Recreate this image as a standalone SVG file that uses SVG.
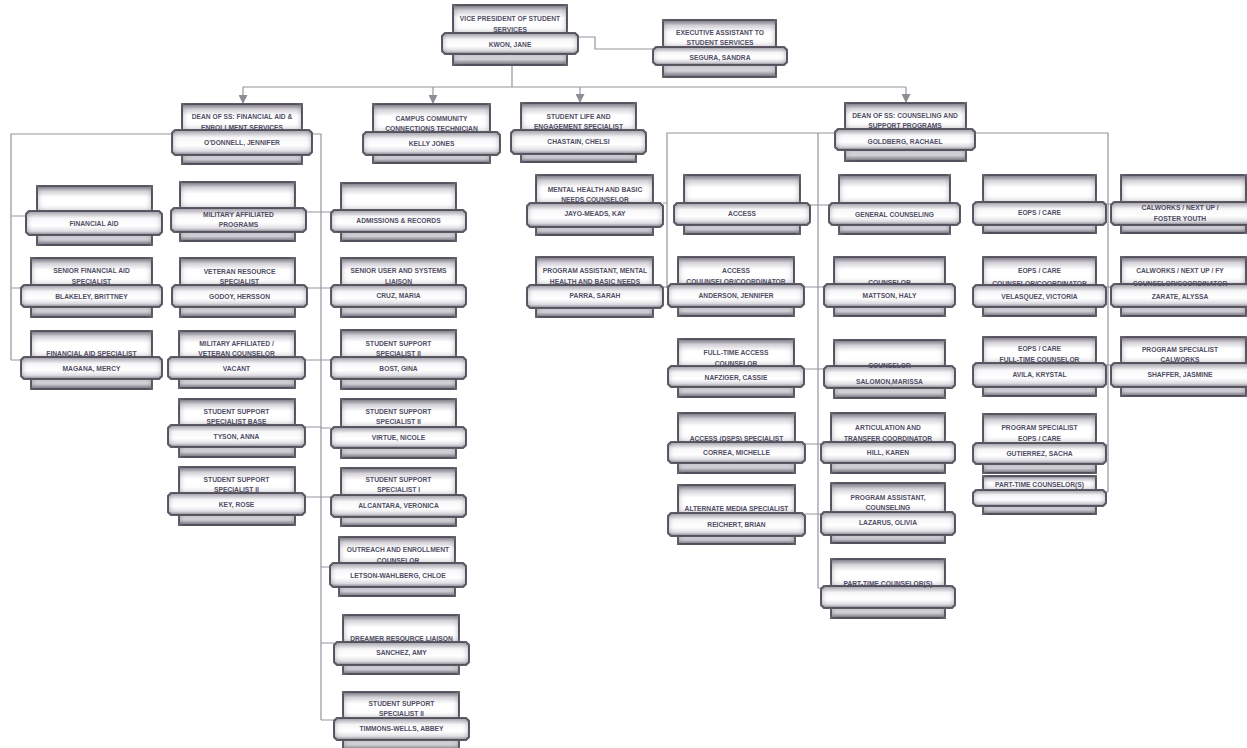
<svg xmlns="http://www.w3.org/2000/svg" width="1247" height="748" viewBox="0 0 1247 748">
<defs>
<filter id="ins" x="-10%" y="-60%" width="120%" height="220%" color-interpolation-filters="sRGB">
<feFlood flood-color="#817e8a" result="f"/>
<feComposite in="f" in2="SourceAlpha" operator="out" result="o"/>
<feGaussianBlur in="o" stdDeviation="3.5" result="b"/>
<feComposite in="b" in2="SourceAlpha" operator="in" result="s"/>
<feMerge><feMergeNode in="SourceGraphic"/><feMergeNode in="s"/></feMerge>
</filter>
<linearGradient id="gt" x1="0" y1="0" x2="0" y2="1">
<stop offset="0" stop-color="#7a7782"/><stop offset="0.2" stop-color="#d4d2d8"/><stop offset="0.45" stop-color="#ffffff"/><stop offset="1" stop-color="#ffffff"/>
</linearGradient>
<linearGradient id="gm" x1="0" y1="0" x2="0" y2="1">
<stop offset="0" stop-color="#b0adb6"/><stop offset="0.3" stop-color="#f7f7f9"/><stop offset="0.6" stop-color="#ffffff"/><stop offset="0.85" stop-color="#e4e3e8"/><stop offset="1" stop-color="#8d8a95"/>
</linearGradient>
<linearGradient id="gb" x1="0" y1="0" x2="0" y2="1">
<stop offset="0" stop-color="#e6e5ea"/><stop offset="0.5" stop-color="#d6d4da"/><stop offset="1" stop-color="#706d79"/>
</linearGradient>
<marker id="arr" viewBox="0 0 10 10" refX="10" refY="5" markerWidth="9" markerHeight="9" orient="auto" markerUnits="userSpaceOnUse">
<path d="M0,0 L10,5 L0,10 Z" fill="#8e8c96"/>
</marker>
</defs>
<style>
.s{stroke:#3d3a45;stroke-width:2;filter:url(#ins)}
.t{fill:url(#gt)}
.m{fill:url(#gm)}
.b{fill:url(#gb)}
text{font-family:"Liberation Sans",Arial,sans-serif;font-size:6.7px;font-weight:bold;fill:#4f4d63;text-anchor:middle}
.c path{fill:none;stroke:#96949e;stroke-width:1.2}
</style>
<rect width="1247" height="748" fill="#ffffff"/>

<g id="connectors" class="c">
<path d="M578,37H595V49H653"/>
<path d="M512,65V87M243,87H906"/>
<path d="M243,87V104" marker-end="url(#arr)"/>
<path d="M433,87V104" marker-end="url(#arr)"/>
<path d="M580,87V103" marker-end="url(#arr)"/>
<path d="M906,87V103" marker-end="url(#arr)"/>
<path d="M172,134H11V360M312,134H321V720"/>
<path d="M11,216H26M11,288H21M11,360H21"/>
<path d="M305,212H321M307,288H321M305,360H321M305,427H321M305,497H321"/>
<path d="M321,212H331M321,288H331M321,360H331M321,428H331M321,497H331M321,567H330M321,643H334M321,720H334"/>
<path d="M835,133H667V288M975,133H1108V492M818,133V588"/>
<path d="M663,203H667M663,287H667"/>
<path d="M810,205H829M804,287H824M804,369H824M805,444H821M805,514H821M818,588H821"/>
<path d="M1106,204H1111M1106,287H1111M1106,365H1111M1106,445H1108M1106,492H1108"/>
</g>

<g id="n-vp"><rect class="s t" x="453" y="5" width="114" height="28"/><rect class="s b" x="453" y="54" width="114" height="11"/><path class="s m" d="M445,33H575L578,36V51L575,54H445L442,51V36Z"/>
<text x="510" y="20.5">VICE PRESIDENT OF STUDENT</text><text x="510" y="31.5">SERVICES</text><text x="510" y="46.5">KWON, JANE</text></g>

<g id="n-exec"><rect class="s t" x="663" y="20" width="113" height="27"/><rect class="s b" x="663" y="65" width="113" height="12"/><path class="s m" d="M656,47H784L787,50V62L784,65H656L653,62V50Z"/>
<text x="720" y="34.5">EXECUTIVE ASSISTANT TO</text><text x="720" y="44.5">STUDENT SERVICES</text><text x="720" y="59.5">SEGURA, SANDRA</text></g>

<g id="n-deanfa"><rect class="s t" x="182" y="104" width="120" height="26"/><rect class="s b" x="182" y="155" width="120" height="9"/><path class="s m" d="M175,130H309L312,133V152L309,155H175L172,152V133Z"/>
<text x="242" y="118.5">DEAN OF SS:  FINANCIAL AID &amp;</text><text x="242" y="129.5">ENROLLMENT SERVICES</text><text x="242" y="144.5">O'DONNELL, JENNIFER</text></g>

<g id="n-campus"><rect class="s t" x="373" y="104" width="117" height="28"/><rect class="s b" x="373" y="155" width="117" height="8"/><path class="s m" d="M366,132H497L500,135V152L497,155H366L363,152V135Z"/>
<text x="431.5" y="120.5">CAMPUS COMMUNITY</text><text x="431.5" y="130.5">CONNECTIONS TECHNICIAN</text><text x="431.5" y="145.5">KELLY JONES</text></g>

<g id="n-studentlife"><rect class="s t" x="521" y="103" width="115" height="27"/><rect class="s b" x="521" y="154" width="115" height="8"/><path class="s m" d="M514,130H643L646,133V151L643,154H514L511,151V133Z"/>
<text x="578.5" y="118.5">STUDENT LIFE AND</text><text x="578.5" y="128.5">ENGAGEMENT SPECIALIST</text><text x="578.5" y="143.5">CHASTAIN, CHELSI</text></g>

<g id="n-deancs"><rect class="s t" x="845" y="103" width="121" height="26"/><rect class="s b" x="845" y="150" width="121" height="11"/><path class="s m" d="M838,129H972L975,132V147L972,150H838L835,147V132Z"/>
<text x="905" y="117.5">DEAN OF SS: COUNSELING AND</text><text x="905" y="127.5">SUPPORT PROGRAMS</text><text x="905" y="143.5">GOLDBERG, RACHAEL</text></g>

<g id="n-finaid"><rect class="s t" x="37" y="186" width="115" height="25"/><rect class="s b" x="37" y="235" width="115" height="10"/><path class="s m" d="M29,211H159L162,214V232L159,235H29L26,232V214Z"/>
<text x="94" y="225.5">FINANCIAL AID</text></g>

<g id="n-seniorfa"><rect class="s t" x="31" y="258" width="121" height="27"/><rect class="s b" x="31" y="307" width="121" height="10"/><path class="s m" d="M24,285H159L162,288V304L159,307H24L21,304V288Z"/>
<text x="91.5" y="272.5">SENIOR FINANCIAL AID</text><text x="91.5" y="283.5">SPECIALIST</text><text x="91.5" y="298.5">BLAKELEY, BRITTNEY</text></g>

<g id="n-faspec"><rect class="s t" x="31" y="331" width="121" height="26"/><rect class="s b" x="31" y="379" width="121" height="10"/><path class="s m" d="M24,357H159L162,360V376L159,379H24L21,376V360Z"/>
<text x="91.5" y="355.5">FINANCIAL AID SPECIALIST</text><text x="91.5" y="370.5">MAGANA, MERCY</text></g>

<g id="n-milprog"><rect class="s t" x="180" y="182" width="115" height="26"/><rect class="s b" x="180" y="232" width="115" height="9"/><path class="s m" d="M174,208H303L306,211V229L303,232H174L171,229V211Z"/>
<text x="238.5" y="216.5">MILITARY AFFILIATED</text><text x="238.5" y="226.5">PROGRAMS</text></g>

<g id="n-veteran"><rect class="s t" x="180" y="258" width="115" height="27"/><rect class="s b" x="180" y="307" width="115" height="10"/><path class="s m" d="M175,285H304L307,288V304L304,307H175L172,304V288Z"/>
<text x="239.5" y="273.5">VETERAN RESOURCE</text><text x="239.5" y="283.5">SPECIALIST</text><text x="239.5" y="298.5">GODOY, HERSSON</text></g>

<g id="n-milvet"><rect class="s t" x="179" y="331" width="116" height="26"/><rect class="s b" x="179" y="379" width="116" height="9"/><path class="s m" d="M171,357H302L305,360V376L302,379H171L168,376V360Z"/>
<text x="236.5" y="345.5">MILITARY AFFILIATED /</text><text x="236.5" y="355.5">VETERAN COUNSELOR</text><text x="236.5" y="370.5">VACANT</text></g>

<g id="n-tyson"><rect class="s t" x="179" y="399" width="116" height="26"/><rect class="s b" x="179" y="447" width="116" height="10"/><path class="s m" d="M171,425H302L305,428V444L302,447H171L168,444V428Z"/>
<text x="236.5" y="413.5">STUDENT SUPPORT</text><text x="236.5" y="423.5">SPECIALIST BASE</text><text x="236.5" y="438.5">TYSON, ANNA</text></g>

<g id="n-key"><rect class="s t" x="179" y="467" width="116" height="26"/><rect class="s b" x="179" y="515" width="116" height="10"/><path class="s m" d="M171,493H302L305,496V512L302,515H171L168,512V496Z"/>
<text x="236.5" y="481.5">STUDENT SUPPORT</text><text x="236.5" y="491.5">SPECIALIST II</text><text x="236.5" y="506.5">KEY, ROSE</text></g>

<g id="n-admissions"><rect class="s t" x="341" y="183" width="115" height="27"/><rect class="s b" x="341" y="232" width="115" height="9"/><path class="s m" d="M334,210H463L466,213V229L463,232H334L331,229V213Z"/>
<text x="398.5" y="222.5">ADMISSIONS &amp; RECORDS</text></g>

<g id="n-cruz"><rect class="s t" x="341" y="258" width="115" height="27"/><rect class="s b" x="341" y="307" width="115" height="10"/><path class="s m" d="M334,285H463L466,288V304L463,307H334L331,304V288Z"/>
<text x="398.5" y="272.5">SENIOR USER AND SYSTEMS</text><text x="398.5" y="283.5">LIAISON</text><text x="398.5" y="297.5">CRUZ, MARIA</text></g>

<g id="n-bost"><rect class="s t" x="341" y="330" width="115" height="27"/><rect class="s b" x="341" y="379" width="115" height="10"/><path class="s m" d="M334,357H463L466,360V376L463,379H334L331,376V360Z"/>
<text x="398.5" y="345.5">STUDENT SUPPORT</text><text x="398.5" y="355.5">SPECIALIST II</text><text x="398.5" y="370.5">BOST, GINA</text></g>

<g id="n-virtue"><rect class="s t" x="341" y="399" width="115" height="28"/><rect class="s b" x="341" y="448" width="115" height="10"/><path class="s m" d="M334,427H463L466,430V445L463,448H334L331,445V430Z"/>
<text x="398.5" y="413.5">STUDENT SUPPORT</text><text x="398.5" y="423.5">SPECIALIST II</text><text x="398.5" y="439.5">VIRTUE, NICOLE</text></g>

<g id="n-alcantara"><rect class="s t" x="341" y="468" width="115" height="27"/><rect class="s b" x="341" y="517" width="115" height="9"/><path class="s m" d="M334,495H463L466,498V514L463,517H334L331,514V498Z"/>
<text x="398.5" y="481.5">STUDENT SUPPORT</text><text x="398.5" y="491.5">SPECIALIST I</text><text x="398.5" y="507.5">ALCANTARA, VERONICA</text></g>

<g id="n-letson"><rect class="s t" x="339" y="537" width="116" height="26"/><rect class="s b" x="339" y="587" width="116" height="9"/><path class="s m" d="M333,563H463L466,566V584L463,587H333L330,584V566Z"/>
<text x="398" y="551.5">OUTREACH AND ENROLLMENT</text><text x="398" y="562.5">COUNSELOR</text><text x="398" y="577.5">LETSON-WAHLBERG, CHLOE</text></g>

<g id="n-sanchez"><rect class="s t" x="343" y="615" width="116" height="27"/><rect class="s b" x="343" y="665" width="116" height="9"/><path class="s m" d="M337,642H466L469,645V662L466,665H337L334,662V645Z"/>
<text x="401.5" y="640.5">DREAMER RESOURCE LIAISON</text><text x="401.5" y="654.5">SANCHEZ, AMY</text></g>

<g id="n-timmons"><rect class="s t" x="343" y="692" width="116" height="26"/><rect class="s b" x="343" y="740" width="116" height="10"/><path class="s m" d="M337,718H466L469,721V737L466,740H337L334,737V721Z"/>
<text x="401.5" y="705.5">STUDENT SUPPORT</text><text x="401.5" y="715.5">SPECIALIST II</text><text x="401.5" y="730.5">TIMMONS-WELLS, ABBEY</text></g>

<g id="n-jayo"><rect class="s t" x="536" y="175" width="117" height="28"/><rect class="s b" x="536" y="227" width="117" height="8"/><path class="s m" d="M530,203H660L663,206V224L660,227H530L527,224V206Z"/>
<text x="595" y="191.5">MENTAL HEALTH AND BASIC</text><text x="595" y="201.5">NEEDS COUNSELOR</text><text x="595" y="215.5">JAYO-MEADS, KAY</text></g>

<g id="n-parra"><rect class="s t" x="536" y="257" width="117" height="28"/><rect class="s b" x="536" y="308" width="117" height="9"/><path class="s m" d="M530,285H660L663,288V305L660,308H530L527,305V288Z"/>
<text x="595" y="272.5">PROGRAM ASSISTANT, MENTAL</text><text x="595" y="283.5">HEALTH AND BASIC NEEDS</text><text x="595" y="297.5">PARRA, SARAH</text></g>

<g id="n-access"><rect class="s t" x="684" y="175" width="116" height="28"/><rect class="s b" x="684" y="225" width="116" height="9"/><path class="s m" d="M677,203H807L810,206V222L807,225H677L674,222V206Z"/>
<text x="742" y="215.5">ACCESS</text></g>

<g id="n-anderson"><rect class="s t" x="678" y="257" width="116" height="27"/><rect class="s b" x="678" y="307" width="116" height="9"/><path class="s m" d="M671,284H801L804,287V304L801,307H671L668,304V287Z"/>
<text x="736" y="272.5">ACCESS</text><text x="736" y="283.5">COUUNSELOR/COORDINATOR</text><text x="736" y="297.5">ANDERSON, JENNIFER</text></g>

<g id="n-nafziger"><rect class="s t" x="678" y="339" width="116" height="27"/><rect class="s b" x="678" y="387" width="116" height="10"/><path class="s m" d="M671,366H801L804,369V384L801,387H671L668,384V369Z"/>
<text x="736" y="354.5">FULL-TIME ACCESS</text><text x="736" y="365.5">COUNSELOR</text><text x="736" y="379.5">NAFZIGER, CASSIE</text></g>

<g id="n-correa"><rect class="s t" x="678" y="413" width="117" height="29"/><rect class="s b" x="678" y="463" width="117" height="10"/><path class="s m" d="M671,442H802L805,445V460L802,463H671L668,460V445Z"/>
<text x="736.5" y="440.5">ACCESS (DSPS) SPECIALIST</text><text x="736.5" y="454.5">CORREA, MICHELLE</text></g>

<g id="n-reichert"><rect class="s t" x="678" y="485" width="117" height="28"/><rect class="s b" x="678" y="536" width="117" height="8"/><path class="s m" d="M671,513H802L805,516V533L802,536H671L668,533V516Z"/>
<text x="736.5" y="510.5">ALTERNATE MEDIA SPECIALIST</text><text x="736.5" y="526.5">REICHERT, BRIAN</text></g>

<g id="n-general"><rect class="s t" x="839" y="175" width="111" height="28"/><rect class="s b" x="839" y="225" width="111" height="9"/><path class="s m" d="M832,203H957L960,206V222L957,225H832L829,222V206Z"/>
<text x="894.5" y="216.5">GENERAL COUNSELING</text></g>

<g id="n-mattson"><rect class="s t" x="834" y="257" width="111" height="27"/><rect class="s b" x="834" y="307" width="111" height="9"/><path class="s m" d="M827,284H952L955,287V304L952,307H827L824,304V287Z"/>
<text x="889.5" y="284.5">COUNSELOR</text><text x="889.5" y="297.5">MATTSON, HALY</text></g>

<g id="n-salomon"><rect class="s t" x="834" y="340" width="111" height="26"/><rect class="s b" x="834" y="388" width="111" height="10"/><path class="s m" d="M827,366H952L955,369V385L952,388H827L824,385V369Z"/>
<text x="889.5" y="367.5">COUNSELOR</text><text x="889.5" y="383.5">SALOMON,MARISSA</text></g>

<g id="n-hill"><rect class="s t" x="831" y="413" width="114" height="29"/><rect class="s b" x="831" y="463" width="114" height="10"/><path class="s m" d="M824,442H952L955,445V460L952,463H824L821,460V445Z"/>
<text x="888" y="429.5">ARTICULATION AND</text><text x="888" y="440.5">TRANSFER COORDINATOR</text><text x="888" y="454.5">HILL, KAREN</text></g>

<g id="n-lazarus"><rect class="s t" x="831" y="483" width="114" height="29"/><rect class="s b" x="831" y="535" width="114" height="8"/><path class="s m" d="M824,512H952L955,515V532L952,535H824L821,532V515Z"/>
<text x="888" y="499.5">PROGRAM ASSISTANT,</text><text x="888" y="509.5">COUNSELING</text><text x="888" y="524.5">LAZARUS, OLIVIA</text></g>

<g id="n-parttime-c"><rect class="s t" x="831" y="559" width="114" height="27"/><rect class="s b" x="831" y="608" width="114" height="10"/><path class="s m" d="M824,586H952L955,589V605L952,608H824L821,605V589Z"/>
<text x="888" y="585.5">PART-TIME COUNSELOR(S)</text></g>

<g id="n-eops"><rect class="s t" x="983" y="175" width="113" height="27"/><rect class="s b" x="983" y="225" width="113" height="8"/><path class="s m" d="M976,202H1103L1106,205V222L1103,225H976L973,222V205Z"/>
<text x="1039.5" y="214.5">EOPS / CARE</text></g>

<g id="n-velasquez"><rect class="s t" x="983" y="257" width="113" height="28"/><rect class="s b" x="983" y="307" width="113" height="9"/><path class="s m" d="M976,285H1103L1106,288V304L1103,307H976L973,304V288Z"/>
<text x="1039.5" y="272.5">EOPS / CARE</text><text x="1039.5" y="285.5">COUNSELOR/COORDINATOR</text><text x="1039.5" y="298.5">VELASQUEZ, VICTORIA</text></g>

<g id="n-avila"><rect class="s t" x="983" y="337" width="113" height="26"/><rect class="s b" x="983" y="387" width="113" height="9"/><path class="s m" d="M976,363H1103L1106,366V384L1103,387H976L973,384V366Z"/>
<text x="1039.5" y="350.5">EOPS / CARE</text><text x="1039.5" y="361.5">FULL-TIME COUNSELOR</text><text x="1039.5" y="376.5">AVILA, KRYSTAL</text></g>

<g id="n-gutierrez"><rect class="s t" x="983" y="414" width="113" height="29"/><rect class="s b" x="983" y="464" width="113" height="9"/><path class="s m" d="M976,443H1103L1106,446V461L1103,464H976L973,461V446Z"/>
<text x="1039.5" y="429.5">PROGRAM SPECIALIST</text><text x="1039.5" y="440.5">EOPS / CARE</text><text x="1039.5" y="455.5">GUTIERREZ, SACHA</text></g>

<g id="n-parttime-e"><rect class="s t" x="983" y="476" width="113" height="14"/><rect class="s b" x="983" y="506" width="113" height="8"/><path class="s m" d="M976,490H1103L1106,493V503L1103,506H976L973,503V493Z"/>
<text x="1039.5" y="487">PART-TIME COUNSELOR(S)</text></g>

<g id="n-calworks"><rect class="s t" x="1121" y="175" width="125" height="27"/><rect class="s b" x="1121" y="225" width="125" height="8"/><path class="s m" d="M1114,202H1254L1257,205V222L1254,225H1114L1111,222V205Z"/>
<text x="1180" y="209.5">CALWORKS / NEXT UP /</text><text x="1180" y="220.5">FOSTER YOUTH</text></g>

<g id="n-zarate"><rect class="s t" x="1121" y="257" width="125" height="27"/><rect class="s b" x="1121" y="307" width="125" height="9"/><path class="s m" d="M1114,284H1254L1257,287V304L1254,307H1114L1111,304V287Z"/>
<text x="1180" y="272.5">CALWORKS / NEXT UP / FY</text><text x="1180" y="285.5">COUNSELOR/COORDINATOR</text><text x="1180" y="298.5">ZARATE, ALYSSA</text></g>

<g id="n-shaffer"><rect class="s t" x="1121" y="337" width="125" height="26"/><rect class="s b" x="1121" y="387" width="125" height="9"/><path class="s m" d="M1114,363H1254L1257,366V384L1254,387H1114L1111,384V366Z"/>
<text x="1180" y="351.5">PROGRAM SPECIALIST</text><text x="1180" y="361.5">CALWORKS</text><text x="1180" y="376.5">SHAFFER, JASMINE</text></g>
</svg>
